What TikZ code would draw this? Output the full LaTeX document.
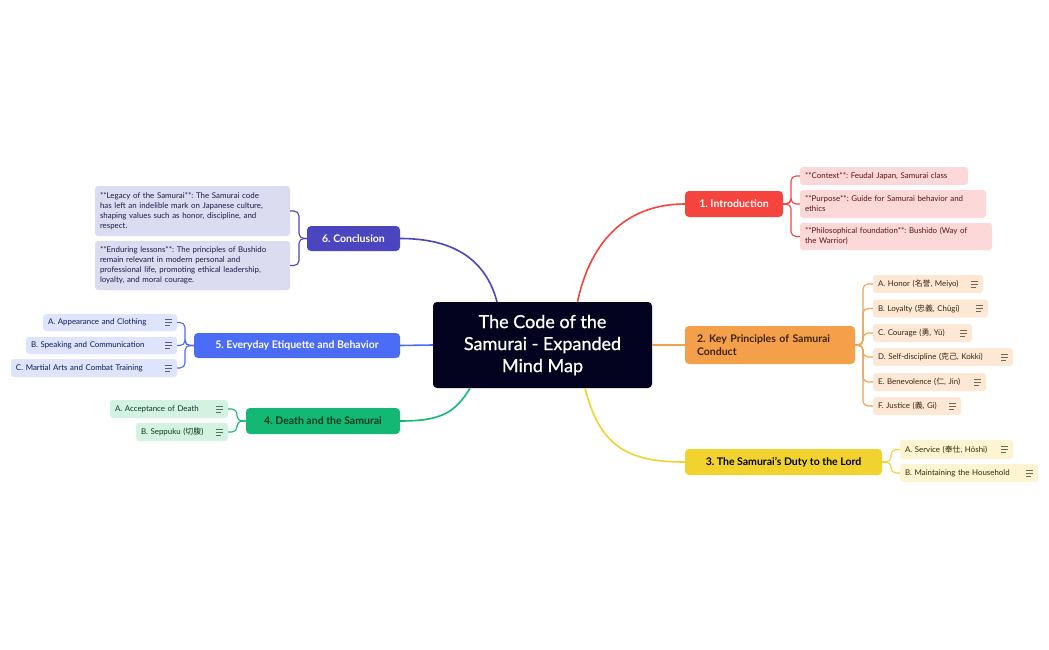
\documentclass[tikz,border=0pt]{standalone}
\usepackage{fontspec}
\setmainfont{Lato}
\newfontfamily\medfont{Lato}[FakeBold=0.8]
\newfontfamily\cjk{Noto Sans CJK JP}
\usetikzlibrary{calc}
\frenchspacing
\definecolor{cNavy}{HTML}{03031F}
\definecolor{cRed}{HTML}{F5443E}
\definecolor{cRedL}{HTML}{FDD8D8}
\definecolor{tRed}{HTML}{5C1414}
\definecolor{cOrange}{HTML}{F4A04A}
\definecolor{cOrangeL}{HTML}{FDE8D6}
\definecolor{tOrange}{HTML}{3D2408}
\definecolor{cYellow}{HTML}{F2D22E}
\definecolor{cYellowL}{HTML}{FDF5D2}
\definecolor{tYellow}{HTML}{332B00}
\definecolor{cPurple}{HTML}{4B45BF}
\definecolor{cPurpleL}{HTML}{DCDCF0}
\definecolor{tPurple}{HTML}{1C1A4A}
\definecolor{cBlue}{HTML}{4A6CF7}
\definecolor{cBlueL}{HTML}{DDE4FC}
\definecolor{tBlue}{HTML}{0E1A5A}
\definecolor{cGreen}{HTML}{12B873}
\definecolor{cGreenL}{HTML}{D3F2E2}
\definecolor{tGreen}{HTML}{0A3A24}
\tikzset{
  centralbox/.style={fill=cNavy, text=white, rounded corners=4pt, inner sep=0pt,
    minimum width=219pt, minimum height=86pt, align=center,
    font=\medfont\fontsize{18}{22}\selectfont},
  topicbox/.style={rounded corners=4pt, inner xsep=0pt, inner ysep=0pt,
    font=\bfseries\fontsize{10.5}{13}\selectfont},
  kidbox/.style={rounded corners=3pt, inner xsep=5pt, inner ysep=0pt, align=left,
    font=\fontsize{7.9}{10}\selectfont},
  mainline/.style={line width=1.6pt},
  brk/.style={line width=1.1pt, rounded corners=5pt},
}
\newcommand\noteicon[2]{%
  \draw[#2, line width=0.75pt] ($(#1.east)+(-12,-3)$) -- +(7,0);
  \draw[#2, line width=0.75pt] ($(#1.east)+(-12,0)$) -- +(7,0);
  \draw[#2, line width=0.75pt] ($(#1.east)+(-12,3)$) -- +(4.5,0);
}
\begin{document}
\begin{tikzpicture}[x=1pt,y=-1pt]
\useasboundingbox[fill=white] (0,0) rectangle (1049,650);

% central
\node[centralbox] (ctr) at (542.5,345) {The Code of the\\Samurai - Expanded\\Mind Map};

% topics
\node[topicbox, fill=cRed, text=white, minimum width=98pt, minimum height=26pt] (intro) at (734,204) {1. Introduction};
\node[topicbox, fill=cOrange, text=tOrange, text width=146pt, inner xsep=12pt, align=left, minimum height=38pt] (key) at (770,345) {2. Key Principles of Samurai\\Conduct};
\node[topicbox, fill=cYellow, text=black, minimum width=197pt, minimum height=26pt] (duty) at (783.5,462) {3. The Samurai's Duty to the Lord};
\node[topicbox, fill=cPurple, text=white, minimum width=93pt, minimum height=25pt] (concl) at (353.5,238.5) {6. Conclusion};
\node[topicbox, fill=cBlue, text=white, minimum width=206pt, minimum height=25pt] (every) at (297,345.5) {5. Everyday Etiquette and Behavior};
\node[topicbox, fill=cGreen, text=tGreen, minimum width=154pt, minimum height=26pt] (death) at (323,421) {4. Death and the Samurai};

% intro children
\node[kidbox, fill=cRedL, text=tRed, text width=158pt, minimum height=18pt] (ic1) at (884,176) {**Context**: Feudal Japan, Samurai class};
\node[kidbox, fill=cRedL, text=tRed, text width=176pt, minimum height=28pt] (ic2) at (893,204) {**Purpose**: Guide for Samurai behavior and\\ethics};
\node[kidbox, fill=cRedL, text=tRed, text width=182pt, minimum height=27pt] (ic3) at (896,236.5) {**Philosophical foundation**: Bushido (Way of\\the Warrior)};

% key children
\node[kidbox, fill=cOrangeL, text=tOrange, text width=100pt, minimum height=18pt] (k1) at (928,284) {A. Honor ({\cjk 名誉}, Meiyo)};
\node[kidbox, fill=cOrangeL, text=tOrange, text width=105pt, minimum height=18pt] (k2) at (930.5,308.5) {B. Loyalty ({\cjk 忠義}, Chūgi)};
\node[kidbox, fill=cOrangeL, text=tOrange, text width=89pt, minimum height=18pt] (k3) at (922.5,333) {C. Courage ({\cjk 勇}, Yū)};
\node[kidbox, fill=cOrangeL, text=tOrange, text width=130pt, minimum height=18pt] (k4) at (943,357) {D. Self-discipline ({\cjk 克己}, Kokki)};
\node[kidbox, fill=cOrangeL, text=tOrange, text width=103pt, minimum height=18pt] (k5) at (929.5,382) {E. Benevolence ({\cjk 仁}, Jin)};
\node[kidbox, fill=cOrangeL, text=tOrange, text width=78pt, minimum height=18pt] (k6) at (917,406) {F. Justice ({\cjk 義}, Gi)};

% duty children
\node[kidbox, fill=cYellowL, text=tYellow, text width=103pt, minimum height=19pt] (d1) at (956.5,449.5) {A. Service ({\cjk 奉仕}, Hōshi)};
\node[kidbox, fill=cYellowL, text=tYellow, text width=128pt, minimum height=18pt] (d2) at (969,473) {B. Maintaining the Household};

% conclusion children
\node[kidbox, fill=cPurpleL, text=tPurple, text width=185pt, minimum height=50pt] (cc1) at (192.5,211) {**Legacy of the Samurai**: The Samurai code\\has left an indelible mark on Japanese culture,\\shaping values such as honor, discipline, and\\respect.};
\node[kidbox, fill=cPurpleL, text=tPurple, text width=185pt, minimum height=49pt] (cc2) at (192.5,265.5) {**Enduring lessons**: The principles of Bushido\\remain relevant in modern personal and\\professional life, promoting ethical leadership,\\loyalty, and moral courage.};

% everyday children
\node[kidbox, fill=cBlueL, text=tBlue, text width=124pt, minimum height=17pt] (e1) at (110,322.5) {A. Appearance and Clothing};
\node[kidbox, fill=cBlueL, text=tBlue, text width=141pt, minimum height=17pt] (e2) at (101.5,345.5) {B. Speaking and Communication};
\node[kidbox, fill=cBlueL, text=tBlue, text width=156pt, minimum height=18pt] (e3) at (94,368) {C. Martial Arts and Combat Training};

% death children
\node[kidbox, fill=cGreenL, text=tGreen, text width=108pt, minimum height=18pt] (g1) at (169,409) {A. Acceptance of Death};
\node[kidbox, fill=cGreenL, text=tGreen, text width=82pt, minimum height=18pt] (g2) at (182,432) {B. Seppuku ({\cjk 切腹})};

% note icons
\foreach \n in {k1,k2,k3,k4,k5,k6} {\noteicon{\n}{tOrange!70}}
\foreach \n in {d1,d2} {\noteicon{\n}{tYellow!70}}
\foreach \n in {e1,e2,e3} {\noteicon{\n}{tBlue!70}}
\foreach \n in {g1,g2} {\noteicon{\n}{tGreen!70}}

% main connectors
\draw[mainline, cRed] ($(ctr.north)+(35,0)$) .. controls +(14,-65) and +(-55,0) .. (intro.west);
\draw[mainline, cPurple] ($(ctr.north)+(-45.5,0)$) .. controls +(-12,-45) and +(50,0) .. (concl.east);
\draw[mainline, cYellow] ($(ctr.south)+(42.5,0)$) .. controls +(15,60) and +(-55,0) .. (duty.west);
\draw[mainline, cGreen] ($(ctr.south)+(-72.5,0)$) .. controls +(-15,25) and +(40,0) .. (death.east);
\draw[mainline, cOrange] (ctr.east) -- (key.west);
\draw[mainline, cBlue] (ctr.west) -- (every.east);

% spines
\coordinate (introsp) at (791,204);
\coordinate (keysp) at (863,345);
\coordinate (dutysp) at (891,462);
\coordinate (conclsp) at (299,238.5);
\coordinate (everysp) at (185,345.5);
\coordinate (deathsp) at (237,421);

\foreach \c in {ic1,ic2,ic3} {\draw[brk, cRed] (intro.east) -- (introsp) |- (\c.west);}
\foreach \c in {k1,k2,k3,k4,k5,k6} {\draw[brk, cOrange] (key.east) -- (keysp) |- (\c.west);}
\foreach \c in {d1,d2} {\draw[brk, cYellow] (duty.east) -- (dutysp) |- (\c.west);}
\foreach \c in {cc1,cc2} {\draw[brk, cPurple] (concl.west) -- (conclsp) |- (\c.east);}
\foreach \c in {e1,e2,e3} {\draw[brk, cBlue] (every.west) -- (everysp) |- (\c.east);}
\foreach \c in {g1,g2} {\draw[brk, cGreen] (death.west) -- (deathsp) |- (\c.east);}
\end{tikzpicture}
\end{document}
